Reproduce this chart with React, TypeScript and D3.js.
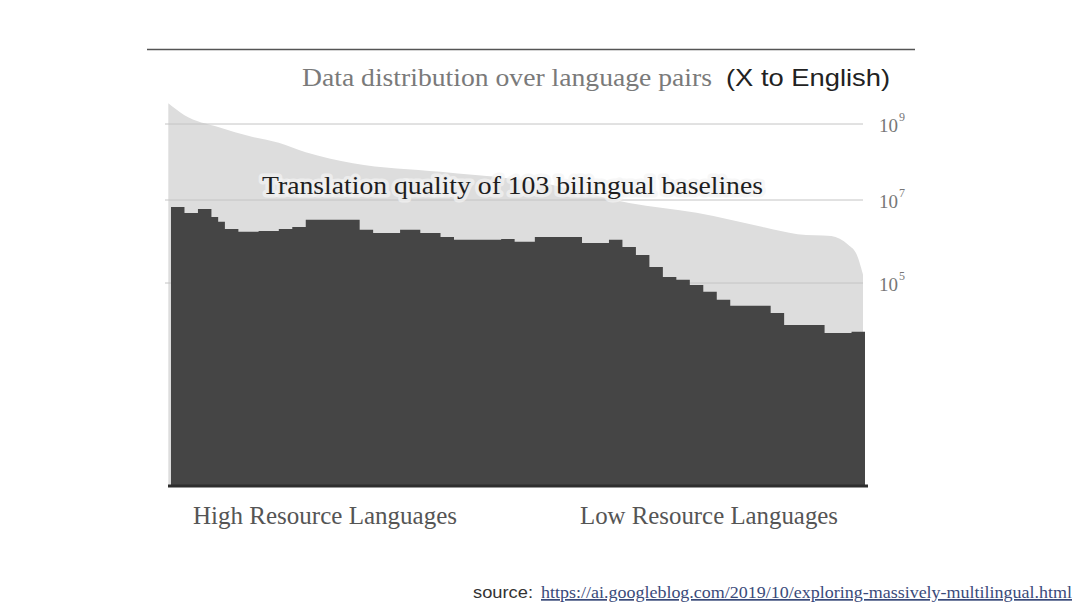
import React from 'react';
import * as d3 from 'd3';

// BLEU-like quality of each of the 103 bilingual baselines (high -> low resource)
const qualityScores = [
  41.7, 41.7, 40.8, 40.8, 41.4, 41.4, 40.2, 39.5, 38.4, 38.4,
  38.0, 38.0, 38.0, 38.1, 38.1, 38.1, 38.4, 38.4, 38.7, 38.7,
  39.8, 39.8, 39.8, 39.8, 39.8, 39.8, 39.8, 39.8, 38.3, 38.3,
  37.8, 37.8, 37.8, 37.8, 38.3, 38.3, 38.3, 37.8, 37.8, 37.8,
  37.2, 37.2, 36.8, 36.8, 36.8, 36.8, 36.8, 36.8, 36.8, 36.9,
  36.9, 36.5, 36.5, 36.5, 37.2, 37.2, 37.2, 37.2, 37.2, 37.2,
  37.2, 36.3, 36.3, 36.3, 36.3, 36.8, 36.8, 35.7, 35.7, 34.5,
  34.5, 32.7, 32.7, 31.2, 31.2, 30.8, 30.8, 30.0, 30.0, 29.0,
  29.0, 27.8, 27.8, 26.9, 26.9, 26.9, 26.9, 26.9, 26.9, 25.8,
  25.8, 24.0, 24.0, 24.0, 24.0, 24.0, 24.0, 22.8, 22.8, 22.8,
  22.8, 23.0, 23.0,
];

// training examples per language pair, read at sampled language positions
const pairIndex = [-0.4, 2, 7, 12, 16, 20, 27, 40, 55, 68, 78, 88, 93, 98, 100.5, 101.8, 102.7];
const pairExamples = [3.5e9, 1.7e9, 8.3e8, 4.6e8, 3.2e8, 1.8e8, 9.3e7, 5.5e7, 2.8e7, 8.5e6, 4.9e6, 2.2e6, 1.5e6, 1.35e6, 8.3e5, 4.7e5, 1.6e5];

const sizeTicks = [1e9, 1e7, 1e5];
const groupLabels = ['High Resource Languages', 'Low Resource Languages'];

const W = 1080;
const H = 608;

export default function App() {
  const x = d3.scaleLinear().domain([0, qualityScores.length]).range([171, 865]);
  const yQ = d3.scaleLinear().domain([0, 45]).range([485, 185]);
  const yN = d3.scaleLog().domain([1e5, 1e7, 1e9]).range([283, 200, 124]);

  const grayArea = d3.area<number>()
    .x((d, i) => x(pairIndex[i]))
    .y0(yQ(0))
    .y1(d => yN(d))
    .curve(d3.curveMonotoneX);

  const steps = [...qualityScores, qualityScores[qualityScores.length - 1]];
  const darkArea = d3.area<number>()
    .x((d, i) => x(i))
    .y0(yQ(0))
    .y1(d => yQ(d))
    .curve(d3.curveStepAfter);

  const serif = '"Liberation Serif", "Times New Roman", serif';
  const sans = '"Liberation Sans", Helvetica, Arial, sans-serif';

  return (
    <svg width={W} height={H} style={{ position: 'absolute', left: 0, top: 0, background: '#fff' }}>
      <line x1={147} x2={915} y1={49.5} y2={49.5} stroke="#555" strokeWidth={1.5} />

      <text x={302} y={86} fontFamily={serif} fontSize={26} fill="#7a7a7a" textLength={410} lengthAdjust="spacingAndGlyphs">
        Data distribution over language pairs
      </text>
      <text x={726} y={86} fontFamily={sans} fontSize={24} fill="#222" textLength={164} lengthAdjust="spacingAndGlyphs">
        (X to English)
      </text>

      <path d={grayArea(pairExamples) || ''} fill="#dddddd" />

      {sizeTicks.map(t => (
        <g key={t}>
          <line x1={165} x2={863} y1={yN(t)} y2={yN(t)} stroke="#c4c4c4" strokeWidth={1} />
          <text x={879} y={yN(t) + 8} fontFamily={serif} fontSize={19} fill="#777">
            10
            <tspan fontSize={12} dx={1} dy={-11}>{Math.round(Math.log10(t))}</tspan>
          </text>
        </g>
      ))}

      <path d={darkArea(steps) || ''} fill="#454545" />

      <line x1={168} x2={868} y1={486} y2={486} stroke="#2e2e2e" strokeWidth={3} />

      <text
        x={262} y={194} fontFamily={serif} fontSize={26} fill="#1e1e1e" textLength={501} lengthAdjust="spacingAndGlyphs"
        stroke="#f4f4f4" strokeWidth={7} strokeOpacity={0.7} paintOrder="stroke" strokeLinejoin="round"
      >
        Translation quality of 103 bilingual baselines
      </text>

      <text x={193} y={524} fontFamily={serif} fontSize={25} fill="#555" textLength={264} lengthAdjust="spacingAndGlyphs">
        {groupLabels[0]}
      </text>
      <text x={580} y={524} fontFamily={serif} fontSize={25} fill="#555" textLength={258} lengthAdjust="spacingAndGlyphs">
        {groupLabels[1]}
      </text>

      <text x={473} y={598} fontFamily={sans} fontSize={17} fill="#333" textLength={60} lengthAdjust="spacingAndGlyphs">source:</text>
      <text x={541} y={598} fontFamily={serif} fontSize={17} fill="#3a4a7a" textLength={531} lengthAdjust="spacingAndGlyphs" textDecoration="underline">
        https://ai.googleblog.com/2019/10/exploring-massively-multilingual.html
      </text>
    </svg>
  );
}
